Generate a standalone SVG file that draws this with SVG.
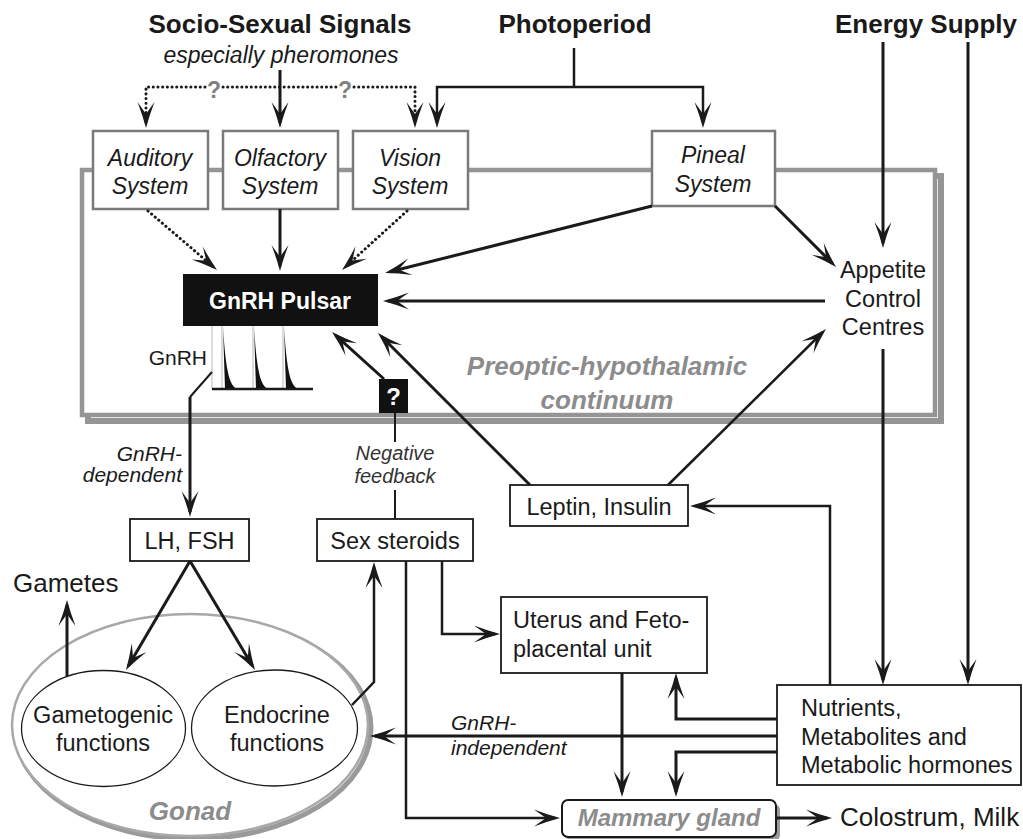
<svg xmlns="http://www.w3.org/2000/svg" width="1023" height="839" viewBox="0 0 1023 839">
<style>
text{font-family:"Liberation Sans",Arial,sans-serif;fill:#1a1a1a}
.title{font-size:26px;font-weight:bold;text-anchor:middle}
.sys{font-size:23px;font-style:italic;text-anchor:middle}
.body{font-size:23.5px;text-anchor:middle}
.bodyl{font-size:23.5px;text-anchor:start}
.gray{fill:#8c8c8c;font-weight:bold;font-style:italic;text-anchor:middle}
.lbl{font-size:21px;font-style:italic}
.lble{font-size:21px;font-style:italic;text-anchor:end}
.gbox{fill:#fff;stroke:#7a7a7a;stroke-width:2.5}
.bbox{fill:#fff;stroke:#1a1a1a;stroke-width:1.8}
.ln{fill:none;stroke:#1a1a1a;stroke-width:3;stroke-linejoin:miter}
.thin{fill:none;stroke:#1a1a1a;stroke-width:2}
.mid{fill:none;stroke:#1a1a1a;stroke-width:2.5}
.dot{fill:none;stroke:#1a1a1a;stroke-width:3;stroke-dasharray:0.1 4.6;stroke-linecap:round}
.arr{marker-end:url(#ah)}
</style>
<defs>
<marker id="ah" markerUnits="userSpaceOnUse" markerWidth="40" markerHeight="40" refX="0" refY="0" orient="auto" style="overflow:visible">
<path d="M5,0 Q-8,-3.5 -21,-8.5 L-9,0 L-21,8.5 Q-8,3.5 5,0 Z" fill="#1a1a1a" stroke="none"/>
</marker>
</defs>
<rect width="1023" height="839" fill="#fff"/>

<g id="continuum">
<rect x="88" y="176" width="853" height="245" fill="none" stroke="#959595" stroke-width="6"/>
<rect x="82" y="170" width="853" height="245" fill="#fff" stroke="#959595" stroke-width="4.5"/>
<text class="gray" x="607" y="375" font-size="26">Preoptic-hypothalamic</text>
<text class="gray" x="607" y="409" font-size="26">continuum</text>
</g>

<g id="socio-sexual-signals">
<text class="title" x="280" y="33">Socio-Sexual Signals</text>
<text class="sys" x="281" y="63">especially pheromones</text>
</g>
<g id="photoperiod"><text class="title" x="575" y="33">Photoperiod</text></g>
<g id="energy-supply"><text class="title" x="926" y="33">Energy Supply</text></g>

<g id="auditory-system">
<rect class="gbox" x="93" y="131" width="115" height="78"/>
<text class="sys" x="150" y="166">Auditory</text>
<text class="sys" x="150" y="194">System</text>
</g>
<g id="olfactory-system">
<rect class="gbox" x="223" y="131" width="115" height="78"/>
<text class="sys" x="280" y="166">Olfactory</text>
<text class="sys" x="280" y="194">System</text>
</g>
<g id="vision-system">
<rect class="gbox" x="353" y="131" width="115" height="78"/>
<text class="sys" x="410" y="166">Vision</text>
<text class="sys" x="410" y="194">System</text>
</g>
<g id="pineal-system">
<rect class="gbox" x="652" y="131" width="123" height="75"/>
<text class="sys" x="713" y="163">Pineal</text>
<text class="sys" x="713" y="192">System</text>
</g>

<g id="gnrh-pulsar">
<rect x="183" y="274" width="195" height="52" fill="#111"/>
<text x="280" y="309" font-size="23" font-weight="bold" text-anchor="middle" style="fill:#fff">GnRH Pulsar</text>
</g>

<g id="gnrh-pulses">
<text x="207" y="365" font-size="21" text-anchor="end">GnRH</text>
<g stroke="#c4c4c4" stroke-width="1.2">
<line x1="212" y1="326" x2="212" y2="389"/>
<line x1="222" y1="326" x2="222" y2="389"/>
<line x1="253" y1="326" x2="253" y2="389"/>
<line x1="283" y1="326" x2="283" y2="389"/>
</g>
<g fill="#111">
<path d="M223,327 L225,389 L237,389 C230,385 226,375 223,327 Z"/>
<path d="M254,327 L256,389 L268,389 C261,385 257,375 254,327 Z"/>
<path d="M284,327 L286,389 L298,389 C291,385 287,375 284,327 Z"/>
</g>
<line x1="212" y1="389" x2="313" y2="389" stroke="#1a1a1a" stroke-width="2.5"/>
</g>

<g id="appetite-control-centres">
<text class="body" x="883" y="278">Appetite</text>
<text class="body" x="883" y="307">Control</text>
<text class="body" x="883" y="335">Centres</text>
</g>

<g id="question-box">
<rect x="379" y="379" width="29" height="34" fill="#111"/>
<text x="393.5" y="405" font-size="24" font-weight="bold" text-anchor="middle" style="fill:#fff">?</text>
</g>
<g id="negative-feedback">
<text x="395" y="460" font-size="20" font-style="italic" text-anchor="middle" style="fill:#333">Negative</text>
<text x="395" y="483" font-size="20" font-style="italic" text-anchor="middle" style="fill:#333">feedback</text>
</g>

<g id="lh-fsh">
<rect class="bbox" x="130" y="519" width="119" height="42"/>
<text class="body" x="189.5" y="549">LH, FSH</text>
</g>
<g id="sex-steroids">
<rect class="bbox" x="317" y="519" width="156" height="42"/>
<text class="body" x="395" y="549">Sex steroids</text>
</g>
<g id="leptin-insulin">
<rect class="bbox" x="510" y="485" width="178" height="41"/>
<text class="body" x="599" y="515">Leptin, Insulin</text>
</g>
<g id="uterus">
<rect class="bbox" x="501" y="597" width="206" height="76"/>
<text class="bodyl" x="513" y="628">Uterus and Feto-</text>
<text class="bodyl" x="513" y="657">placental unit</text>
</g>
<g id="nutrients">
<rect class="bbox" x="777" y="685" width="244" height="100"/>
<text class="bodyl" x="801" y="716">Nutrients,</text>
<text class="bodyl" x="801" y="745">Metabolites and</text>
<text class="bodyl" x="801" y="773">Metabolic hormones</text>
</g>
<g id="mammary-gland">
<rect x="566" y="804" width="214" height="37" rx="6" fill="#9a9a9a"/>
<rect x="562" y="800" width="214" height="37" rx="6" fill="#fff" stroke="#1a1a1a" stroke-width="2"/>
<text class="gray" x="669" y="826" font-size="24">Mammary gland</text>
</g>
<g id="colostrum-milk"><text x="840" y="826" font-size="26">Colostrum, Milk</text></g>
<g id="gametes"><text x="13" y="592" font-size="26">Gametes</text></g>

<g id="gonad">
<ellipse cx="193" cy="728" rx="178" ry="111" fill="none" stroke="#9a9a9a" stroke-width="5"/>
<ellipse cx="190" cy="725" rx="178" ry="111" fill="#fff" stroke="#a8a8a8" stroke-width="2.5"/>
<text class="gray" x="190" y="820" font-size="26">Gonad</text>
</g>
<g id="gametogenic-functions">
<ellipse cx="103.5" cy="728.5" rx="82" ry="58" fill="#fff" stroke="#1a1a1a" stroke-width="1.3"/>
<text class="body" x="103" y="723">Gametogenic</text>
<text class="body" x="103" y="751">functions</text>
</g>
<g id="endocrine-functions">
<ellipse cx="274.5" cy="728" rx="83" ry="58" fill="#fff" stroke="#1a1a1a" stroke-width="1.3"/>
<text class="body" x="277" y="723">Endocrine</text>
<text class="body" x="277" y="751">functions</text>
</g>

<g id="connectors">
<path class="ln arr" d="M280,70 L280,123"/>
<path class="dot arr" d="M205,87 L146,87 L146,123"/>
<path class="dot" d="M223,87 L336,87"/>
<path class="dot arr" d="M354,87 L415,87 L415,123"/>
<text x="214" y="98" font-size="23" font-weight="bold" text-anchor="middle" style="fill:#808080">?</text>
<text x="345" y="98" font-size="23" font-weight="bold" text-anchor="middle" style="fill:#808080">?</text>
<path class="mid" d="M574,48 L574,87"/>
<path class="mid arr" d="M574,87 L437,87 L437,123"/>
<path class="mid arr" d="M574,87 L703,87 L703,123"/>
<path class="ln arr" d="M883,42 L883,243"/>
<path class="ln arr" d="M968,42 L968,680"/>
<path class="ln arr" d="M883,349 L883,680"/>
<path class="ln arr" d="M825,301 L388,301"/>
<path class="ln arr" d="M652,206 L389.9,271.8"/>
<path class="ln arr" d="M775,206 L832.5,263.5"/>
<path class="dot arr" d="M148,211 L213.2,266.7"/>
<path class="ln arr" d="M280,209 L280,266"/>
<path class="dot arr" d="M407,211 L345.7,266.6"/>
<path class="ln arr" d="M384,379 L335.7,335.4"/>
<path class="ln arr" d="M530,485 L381.5,336.5"/>
<path class="mid arr" d="M668,485 L822.4,332.5"/>
<path class="thin" d="M212,372 L190,397"/>
<path class="ln arr" d="M190,397 L190,512"/>
<path class="thin" d="M395,413 L395,442"/>
<path class="thin" d="M395,490 L395,519"/>
<path class="ln arr" d="M190,561 L128.5,665.7"/>
<path class="ln arr" d="M190,561 L252.4,665.7"/>
<path class="ln arr" d="M67,676 L67,605"/>
<path class="mid arr" d="M352,705 L374,682 L374,567"/>
<path class="mid arr" d="M442,561 L442,634 L495,634"/>
<path class="mid arr" d="M406,561 L406,818 L555,818"/>
<path class="ln arr" d="M622,673 L622,792"/>
<path class="ln arr" d="M777,719 L676,719 L676,678"/>
<path class="ln arr" d="M777,752 L676,752 L676,792"/>
<path class="ln arr" d="M777,736 L375,736"/>
<path class="mid arr" d="M830,685 L830,506 L695,506"/>
<path class="ln arr" d="M776,818 L827,818"/>
<text class="lble" x="182" y="461">GnRH-</text>
<text class="lble" x="182" y="482">dependent</text>
<text class="lbl" x="451" y="730">GnRH-</text>
<text class="lbl" x="451" y="755">independent</text>
</g>
</svg>
